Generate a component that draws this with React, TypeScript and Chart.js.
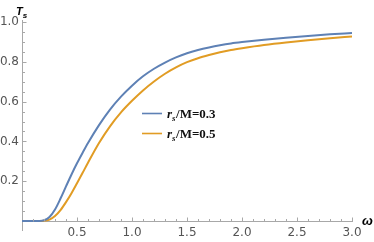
import React, { useEffect, useRef } from 'react';
import { Chart, registerables } from 'chart.js';

Chart.register(...registerables);

// ---- data ----
const OMEGA = [0, 0.1, 0.15, 0.2, 0.25, 0.3, 0.35, 0.4, 0.45, 0.5, 0.55, 0.6, 0.7, 0.8, 0.9, 1.0, 1.1, 1.2, 1.3, 1.4, 1.5, 1.6, 1.7, 1.8, 1.9, 2.0, 2.2, 2.4, 2.6, 2.8, 3.0];
const TS_RS03 = [0, 0, 0.0005, 0.004, 0.02, 0.058, 0.113, 0.174, 0.234, 0.29, 0.342, 0.392, 0.482, 0.56, 0.625, 0.68, 0.727, 0.765, 0.796, 0.822, 0.843, 0.859, 0.872, 0.883, 0.892, 0.899, 0.911, 0.921, 0.93, 0.938, 0.945];
const TS_RS05 = [0, 0, 0, 0.001, 0.007, 0.025, 0.055, 0.095, 0.14, 0.19, 0.241, 0.293, 0.392, 0.476, 0.546, 0.604, 0.656, 0.701, 0.74, 0.772, 0.798, 0.818, 0.834, 0.848, 0.859, 0.868, 0.884, 0.897, 0.908, 0.918, 0.927];
const SERIES_VALUES = ['0.3', '0.5'];
const SERIES_COLORS = ['#5E81B5', '#E19C24'];
const X_TICKS = [0.5, 1.0, 1.5, 2.0, 2.5, 3.0];
const Y_TICKS = [0.2, 0.4, 0.6, 0.8, 1.0];
const X_MINOR_STEP = 0.1;
const Y_MINOR_STEP = 0.05;

const AXIS_COLOR = '#a8a8a8';
const LABEL_COLOR = '#555555';

const decorPlugin = {
  id: 'decor',
  afterDraw(chart: any) {
    const { ctx, chartArea, scales } = chart;
    const x = scales.x;
    const y = scales.y;
    const y0 = Math.round(y.getPixelForValue(0)) + 0.5;
    const xl = Math.round(chartArea.left) + 0.5;
    ctx.save();
    ctx.strokeStyle = AXIS_COLOR;
    ctx.lineWidth = 1;
    ctx.beginPath();
    const xMax = x.max;
    for (let i = 1; i * X_MINOR_STEP <= xMax + 1e-9; i++) {
      const v = i * X_MINOR_STEP;
      const major = X_TICKS.some((t) => Math.abs(t - v) < 1e-6);
      const px = Math.round(x.getPixelForValue(v)) + 0.5;
      ctx.moveTo(px, y0);
      ctx.lineTo(px, y0 - (major ? 4 : 2.5));
    }
    for (let i = 1; i * Y_MINOR_STEP <= y.max + 1e-9; i++) {
      const v = i * Y_MINOR_STEP;
      const major = Y_TICKS.some((t) => Math.abs(t - v) < 1e-6);
      const py = Math.round(y.getPixelForValue(v)) + 0.5;
      ctx.moveTo(xl, py);
      ctx.lineTo(xl + (major ? 4 : 2.5), py);
    }
    ctx.stroke();

    // axis labels
    ctx.fillStyle = '#000';
    ctx.textBaseline = 'alphabetic';
    ctx.textAlign = 'left';
    ctx.font = 'italic bold 11px "Liberation Sans"';
    ctx.fillText('T', 16, 15);
    const tw = ctx.measureText('T').width;
    ctx.font = 'italic bold 8px "Liberation Sans"';
    ctx.fillText('s', 16 + tw, 18);
    ctx.font = 'italic bold 13px "Liberation Sans"';
    ctx.fillText('ω', 362, 225);

    // legend
    chart.data.datasets.forEach((ds: any, i: number) => {
      const cy = 113.5 + i * 20;
      ctx.strokeStyle = ds.borderColor;
      ctx.lineWidth = 1.6;
      ctx.beginPath();
      ctx.moveTo(142, cy);
      ctx.lineTo(162, cy);
      ctx.stroke();
      let cx = 167;
      const by = cy + 4.5;
      ctx.fillStyle = '#111';
      ctx.font = 'italic bold 13px "Liberation Serif"';
      ctx.fillText('r', cx, by);
      cx += ctx.measureText('r').width;
      ctx.font = 'italic bold 9px "Liberation Serif"';
      ctx.fillText('s', cx, by + 2.5);
      cx += ctx.measureText('s').width + 0.5;
      ctx.font = 'bold 13px "Liberation Serif"';
      ctx.fillText('/M=' + SERIES_VALUES[i], cx, by);
    });
    ctx.restore();
  },
};

export default function App() {
  const ref = useRef<HTMLCanvasElement>(null);
  useEffect(() => {
    if (!ref.current) return;
    const series = [TS_RS03, TS_RS05];
    const chart = new Chart(ref.current, {
      type: 'line',
      data: {
        datasets: series.map((vals, i) => ({
          label: 'rs/M=' + SERIES_VALUES[i],
          data: OMEGA.map((w, k) => ({ x: w, y: vals[k] })),
          borderColor: SERIES_COLORS[i],
          backgroundColor: SERIES_COLORS[i],
          borderWidth: 2,
          pointRadius: 0,
          cubicInterpolationMode: 'monotone',
          fill: false,
        })),
      },
      options: {
        responsive: false,
        animation: false,
        layout: { padding: { left: 0, right: 22, top: 20, bottom: 12 } },
        plugins: { legend: { display: false }, tooltip: { enabled: false } },
        scales: {
          x: {
            type: 'linear',
            min: 0,
            max: 3,
            position: { y: 0 } as any,
            grid: { display: true, drawOnChartArea: false, drawTicks: false },
            border: { display: true, color: AXIS_COLOR, width: 1 },
            afterBuildTicks: (s: any) => {
              s.ticks = X_TICKS.map((v) => ({ value: v }));
            },
            ticks: {
              padding: 5,
              color: LABEL_COLOR,
              font: { family: '"DejaVu Sans"', size: 12 },
              maxRotation: 0,
              callback: (v: any) => Number(v).toFixed(1),
            },
          },
          y: {
            type: 'linear',
            min: -0.045,
            max: 1.01,
            position: 'left',
            afterFit: (s: any) => {
              s.width = 22;
            },
            grid: { display: true, drawOnChartArea: false, drawTicks: false },
            border: { display: true, color: AXIS_COLOR, width: 1 },
            afterBuildTicks: (s: any) => {
              s.ticks = Y_TICKS.map((v) => ({ value: v }));
            },
            ticks: {
              padding: 3,
              color: LABEL_COLOR,
              font: { family: '"DejaVu Sans"', size: 12 },
              callback: (v: any) => Number(v).toFixed(1),
            },
          },
        },
      },
      plugins: [decorPlugin],
    });
    return () => chart.destroy();
  }, []);
  return (
    <div style={{ position: 'absolute', left: 0, top: 0, width: 374, height: 242, background: '#fff' }}>
      <canvas ref={ref} width={374} height={242} />
    </div>
  );
}
